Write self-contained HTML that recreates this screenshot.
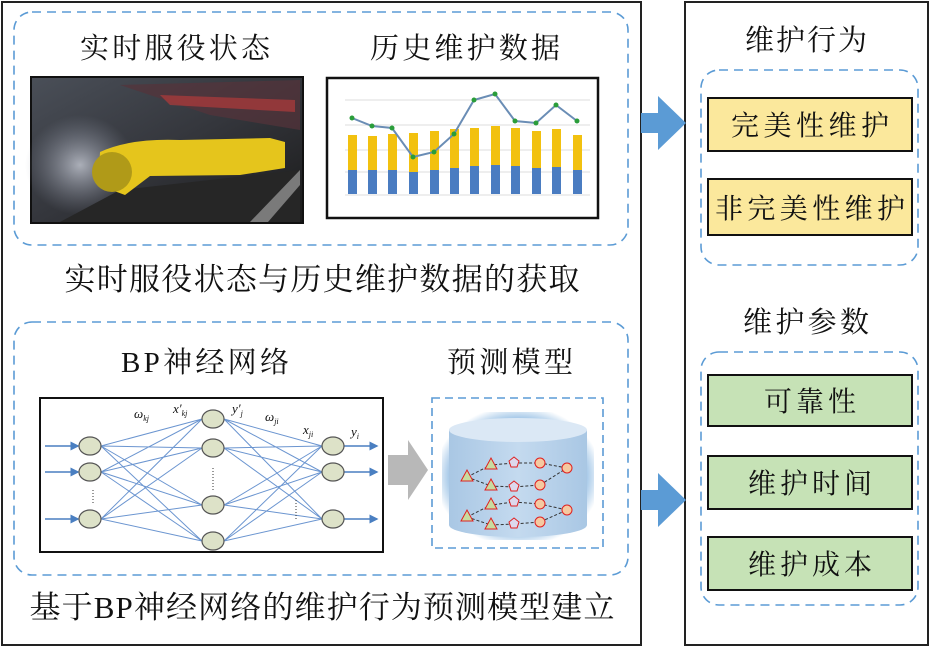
<!DOCTYPE html>
<html><head><meta charset="utf-8"><style>
html,body{margin:0;padding:0;background:#fff}
svg{display:block}
text{font-family:"Liberation Serif","Noto Serif CJK SC",serif;fill:#111}
</style></head><body>
<svg width="931" height="648" viewBox="0 0 931 648" xmlns="http://www.w3.org/2000/svg">
<defs>
<linearGradient id="cyl" x1="0" x2="1"><stop offset="0" stop-color="#a9c7e4"/><stop offset="0.5" stop-color="#c4daef"/><stop offset="1" stop-color="#a9c7e4"/></linearGradient>
<radialGradient id="glow" cx="0.5" cy="0.5" r="0.55"><stop offset="0.8" stop-color="#5b9bd5" stop-opacity="0.6"/><stop offset="1" stop-color="#5b9bd5" stop-opacity="0"/></radialGradient>
<linearGradient id="ph" x1="0" y1="0" x2="1" y2="1"><stop offset="0" stop-color="#4a4f58"/><stop offset="0.5" stop-color="#34363c"/><stop offset="1" stop-color="#1a1a1a"/></linearGradient>
<radialGradient id="blur" cx="0.5" cy="0.5" r="0.5"><stop offset="0" stop-color="#c8ccd6" stop-opacity="0.8"/><stop offset="1" stop-color="#8a90a0" stop-opacity="0"/></radialGradient>
<marker id="ah" markerWidth="6" markerHeight="6" refX="5" refY="3" orient="auto"><path d="M0,0 L6,3 L0,6z" fill="#4a7fc1"/></marker>
</defs>
<rect x="2" y="2" width="639" height="643" fill="none" stroke="#222" stroke-width="2"/>
<rect x="685" y="2" width="243" height="643" fill="none" stroke="#222" stroke-width="2"/>
<rect x="14" y="12" width="614" height="233" rx="18" fill="none" stroke="#5b9bd5" stroke-width="1.6" stroke-dasharray="9,6"/>
<text x="175" y="58" font-size="29" text-anchor="middle" textLength="190">实时服役状态</text>
<text x="465" y="58" font-size="29" text-anchor="middle" textLength="190">历史维护数据</text>
<!-- photo -->
<rect x="31" y="77" width="272" height="146" fill="url(#ph)" stroke="#111" stroke-width="2"/>
<path d="M120,85 L300,80 L300,130 L210,115 Z" fill="#55333a" opacity="0.7"/>
<path d="M160,95 L295,100 L295,112 L170,105Z" fill="#b03a3a" opacity="0.7"/>
<ellipse cx="80" cy="165" rx="55" ry="50" fill="url(#blur)"/>
<path d="M120,190 L300,170 L300,222 L60,222Z" fill="#262626"/>
<path d="M100,152 Q130,138 180,140 L270,138 L285,142 L285,168 L240,175 L150,176 L125,195 L98,185Z" fill="#e5c51c"/>
<circle cx="112" cy="172" r="20" fill="#b09a18"/>
<path d="M250,222 L300,170 L300,185 L268,222Z" fill="#7a7a7a"/>
<!-- chart -->
<rect x="327" y="78" width="271" height="140" fill="#fff" stroke="#111" stroke-width="2.5"/>
<g stroke="#ddd" stroke-width="1"><line x1="345" y1="100" x2="590" y2="100"/><line x1="345" y1="125" x2="590" y2="125"/><line x1="345" y1="150" x2="590" y2="150"/><line x1="345" y1="172" x2="590" y2="172"/><line x1="345" y1="195" x2="590" y2="195"/></g>
<g fill="#f2c10f">
<rect x="348" y="135" width="9" height="58"/><rect x="368" y="136" width="9" height="57"/><rect x="388" y="134" width="9" height="59"/><rect x="409" y="133" width="9" height="60"/><rect x="430" y="131" width="9" height="62"/><rect x="450" y="129" width="9" height="64"/><rect x="470" y="128" width="9" height="65"/><rect x="491" y="126" width="9" height="67"/><rect x="511" y="128" width="9" height="65"/><rect x="532" y="131" width="9" height="62"/><rect x="552" y="129" width="9" height="64"/><rect x="573" y="135" width="9" height="58"/>
</g>
<g fill="#4a7cc1">
<rect x="348" y="170" width="9" height="24"/><rect x="368" y="170" width="9" height="24"/><rect x="388" y="170" width="9" height="24"/><rect x="409" y="172" width="9" height="22"/><rect x="430" y="170" width="9" height="24"/><rect x="450" y="168" width="9" height="26"/><rect x="470" y="166" width="9" height="28"/><rect x="491" y="165" width="9" height="29"/><rect x="511" y="166" width="9" height="28"/><rect x="532" y="168" width="9" height="26"/><rect x="552" y="167" width="9" height="27"/><rect x="573" y="170" width="9" height="24"/>
</g>
<polyline points="352,118 372,126 392,128 413,157 434,152 454,134 474,100 495,94 515,121 536,123 556,105 577,121" fill="none" stroke="#6a8db5" stroke-width="2"/>
<g fill="#2a9d3a"><circle cx="352" cy="118" r="2.5"/><circle cx="372" cy="126" r="2.5"/><circle cx="392" cy="128" r="2.5"/><circle cx="413" cy="157" r="2.5"/><circle cx="434" cy="152" r="2.5"/><circle cx="454" cy="134" r="2.5"/><circle cx="474" cy="100" r="2.5"/><circle cx="495" cy="94" r="2.5"/><circle cx="515" cy="121" r="2.5"/><circle cx="536" cy="123" r="2.5"/><circle cx="556" cy="105" r="2.5"/><circle cx="577" cy="121" r="2.5"/></g>
<text x="322" y="290" font-size="31" text-anchor="middle" textLength="515">实时服役状态与历史维护数据的获取</text>
<rect x="14" y="322" width="614" height="253" rx="18" fill="none" stroke="#5b9bd5" stroke-width="1.6" stroke-dasharray="9,6"/>
<text x="205" y="372" font-size="29" text-anchor="middle" textLength="168">BP神经网络</text>
<text x="510" y="372" font-size="29" text-anchor="middle" textLength="126">预测模型</text>
<!-- NN -->
<rect x="40" y="398" width="343" height="154" fill="#fff" stroke="#111" stroke-width="2"/>
<g stroke="#6b95d0" stroke-width="1" fill="none">
<path d="M101,446 L202,419 M101,446 L202,448 M101,446 L202,505 M101,446 L202,541 M101,472 L202,419 M101,472 L202,448 M101,472 L202,505 M101,472 L202,541 M101,519 L202,419 M101,519 L202,448 M101,519 L202,505 M101,519 L202,541"/>
<path d="M224,419 L322,446 M224,419 L322,472 M224,419 L322,519 M224,448 L322,446 M224,448 L322,472 M224,448 L322,519 M224,505 L322,446 M224,505 L322,472 M224,505 L322,519 M224,541 L322,446 M224,541 L322,472 M224,541 L322,519"/>
</g>
<g stroke="#4a7fc1" stroke-width="1.5" marker-end="url(#ah)">
<line x1="45" y1="446" x2="78" y2="446"/><line x1="45" y1="472" x2="78" y2="472"/><line x1="45" y1="519" x2="78" y2="519"/>
<line x1="344" y1="446" x2="377" y2="446"/><line x1="344" y1="472" x2="377" y2="472"/><line x1="344" y1="519" x2="377" y2="519"/>
</g>
<g fill="#dde2c8" stroke="#555" stroke-width="1.2">
<ellipse cx="90" cy="446" rx="11" ry="9"/><ellipse cx="90" cy="472" rx="11" ry="9"/><ellipse cx="90" cy="519" rx="11" ry="9"/>
<ellipse cx="213" cy="419" rx="11" ry="9"/><ellipse cx="213" cy="448" rx="11" ry="9"/><ellipse cx="213" cy="505" rx="11" ry="9"/><ellipse cx="213" cy="541" rx="11" ry="9"/>
<ellipse cx="333" cy="446" rx="11" ry="9"/><ellipse cx="333" cy="472" rx="11" ry="9"/><ellipse cx="333" cy="519" rx="11" ry="9"/>
</g>
<g stroke="#333" stroke-width="1" stroke-dasharray="1,2"><line x1="93" y1="490" x2="93" y2="505"/><line x1="213" y1="468" x2="213" y2="490"/><line x1="296" y1="500" x2="296" y2="520"/></g>
<g font-size="13" font-style="italic"><text x="134" y="418">ω<tspan font-size="8" dy="3">kj</tspan></text><text x="173" y="413">x′<tspan font-size="8" dy="3">kj</tspan></text><text x="232" y="413">y′<tspan font-size="8" dy="3">j</tspan></text><text x="265" y="421">ω<tspan font-size="8" dy="3">ji</tspan></text><text x="303" y="434">x<tspan font-size="8" dy="3">ji</tspan></text><text x="351" y="436">y<tspan font-size="8" dy="3">i</tspan></text></g>
<path d="M388,455 L408,455 L408,440 L428,470 L408,500 L408,485 L388,485Z" fill="#b8b8b8"/>
<!-- model -->
<rect x="432" y="398" width="171" height="150" fill="none" stroke="#5b9bd5" stroke-width="1.6" stroke-dasharray="8,5"/>
<rect x="442" y="412" width="152" height="128" rx="20" fill="url(#glow)"/>
<path d="M449,430 L449,525 A69,12 0 0 0 587,525 L587,430Z" fill="url(#cyl)"/>
<ellipse cx="518" cy="430" rx="69" ry="12" fill="#dbe8f5"/>
<g stroke="#333" stroke-dasharray="3,2" fill="none"><polyline points="467,477 491,465 514,463 540,463 567,468"/><polyline points="467,477 491,486 514,487 540,485 567,468"/><polyline points="467,517 491,505 514,502 540,504 567,510"/><polyline points="467,517 491,525 514,524 540,522 567,510"/></g>
<g fill="#f5c9a0" stroke="#e02020" stroke-width="1">
<path d="M461,481 L467,470 L473,481Z" fill="#c8dca0"/><path d="M485,469 L491,458 L497,469Z" fill="#c8dca0"/><path d="M485,490 L491,479 L497,490Z" fill="#c8dca0"/>
<path d="M461,521 L467,510 L473,521Z" fill="#c8dca0"/><path d="M485,509 L491,498 L497,509Z" fill="#c8dca0"/><path d="M485,529 L491,518 L497,529Z" fill="#c8dca0"/>
<path d="M514,457 L519,461 L517,467 L511,467 L509,461Z" fill="#ddd8ec"/><path d="M514,481 L519,485 L517,491 L511,491 L509,485Z" fill="#ddd8ec"/><path d="M514,496 L519,500 L517,506 L511,506 L509,500Z" fill="#ddd8ec"/><path d="M514,518 L519,522 L517,528 L511,528 L509,522Z" fill="#ddd8ec"/>
<circle cx="540" cy="463" r="5"/><circle cx="540" cy="485" r="5"/><circle cx="540" cy="504" r="5"/><circle cx="540" cy="522" r="5"/><circle cx="567" cy="468" r="5"/><circle cx="567" cy="510" r="5"/>
</g>
<text x="322" y="618" font-size="31" text-anchor="middle" textLength="585">基于BP神经网络的维护行为预测模型建立</text>
<path d="M641,113 L658,113 L658,96 L686,123 L658,150 L658,133 L641,133Z" fill="#5b9bd5"/>
<path d="M641,490 L658,490 L658,473 L686,500 L658,527 L658,510 L641,510Z" fill="#5b9bd5"/>
<text x="806" y="50" font-size="29" text-anchor="middle" textLength="122">维护行为</text>
<rect x="701" y="70" width="217" height="195" rx="18" fill="none" stroke="#5b9bd5" stroke-width="1.6" stroke-dasharray="9,6"/>
<rect x="708" y="98" width="204" height="53" fill="#fbe89c" stroke="#111" stroke-width="2"/>
<rect x="708" y="179" width="204" height="56" fill="#fbe89c" stroke="#111" stroke-width="2"/>
<text x="810" y="135" font-size="28" text-anchor="middle" textLength="158">完美性维护</text>
<text x="810" y="218" font-size="28" text-anchor="middle" textLength="190">非完美性维护</text>
<text x="806" y="332" font-size="29" text-anchor="middle" textLength="126">维护参数</text>
<rect x="701" y="352" width="217" height="253" rx="18" fill="none" stroke="#5b9bd5" stroke-width="1.6" stroke-dasharray="9,6"/>
<rect x="708" y="375" width="204" height="51" fill="#c6e2b6" stroke="#111" stroke-width="2"/>
<rect x="708" y="456" width="204" height="53" fill="#c6e2b6" stroke="#111" stroke-width="2"/>
<rect x="708" y="537" width="204" height="53" fill="#c6e2b6" stroke="#111" stroke-width="2"/>
<text x="810" y="411" font-size="28" text-anchor="middle" textLength="92">可靠性</text>
<text x="810" y="493" font-size="28" text-anchor="middle" textLength="124">维护时间</text>
<text x="810" y="574" font-size="28" text-anchor="middle" textLength="124">维护成本</text>
</svg>
</body></html>
